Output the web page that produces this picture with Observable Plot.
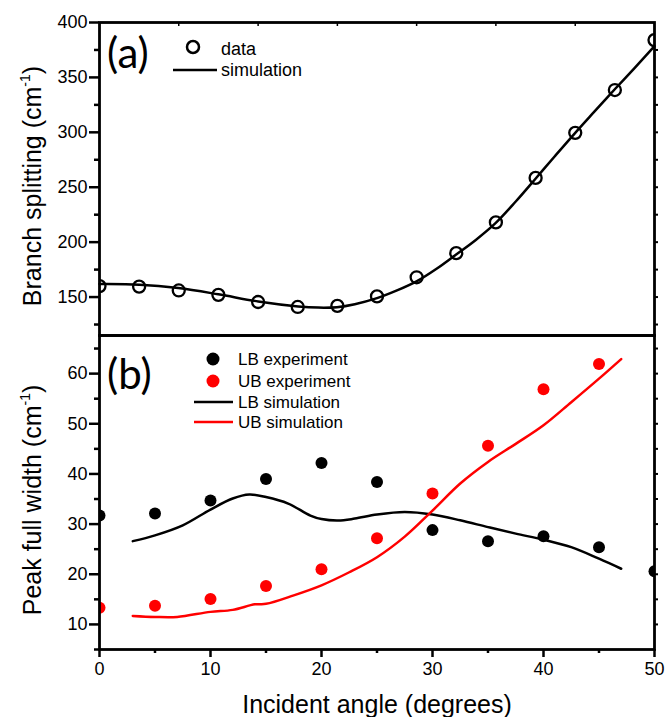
<!DOCTYPE html>
<html>
<head>
<meta charset="utf-8">
<script src="https://cdn.jsdelivr.net/npm/d3@7"></script>
<script src="https://cdn.jsdelivr.net/npm/@observablehq/plot@0.6"></script>
<style>
  html, body { margin: 0; padding: 0; background: #fff; }
  #wrap { position: relative; width: 665px; height: 717px; overflow: hidden; }
  #wrap svg { position: absolute; left: 0; }
</style>
</head>
<body>
<div id="wrap"></div>
<script>
// ---------- Panel (a): branch splitting ----------
const angleA = [0, 3.57, 7.14, 10.71, 14.29, 17.86, 21.43, 25, 28.57, 32.14, 35.71, 39.29, 42.86, 46.43, 50];
const splitA = [160, 159.5, 156, 152, 145.5, 141, 142, 150.6, 168, 190, 218, 258.5, 299.5, 338.5, 384];

const simAngleA = [0, 3.6, 7.1, 10.7, 14.3, 17.9, 19.7, 21.4, 23, 25, 26.8, 28.6, 30.4, 32.1, 33.9, 35.7, 37.5, 39.3, 41, 42.9, 44.6, 46.4, 48.2, 50];
const simSplitA = [161.8, 161.3, 158.2, 152.5, 146, 141.5, 140.4, 140.8, 143.5, 149, 156, 164.5, 176, 188.5, 202, 217.5, 237, 258, 278, 300, 319, 339, 358.5, 378.5];

const yTicksA = [150, 200, 250, 300, 350, 400];
const yMinorA = [125, 175, 225, 275, 325, 375];
const yRightA = [125, 150, 175, 200, 225, 250, 275, 300, 325, 350, 375];
const xTopTicksA = [7.14, 14.29, 21.43, 28.57, 35.71, 42.86];

// ---------- Panel (b): peak full width ----------
const angleLB = [0, 5, 10, 15, 20, 25, 30, 35, 40, 45, 50];
const widthLB = [31.7, 32.1, 34.7, 39.0, 42.2, 38.4, 28.8, 26.6, 27.6, 25.4, 20.6];
const angleUB = [0, 5, 10, 15, 20, 25, 30, 35, 40, 45];
const widthUB = [13.3, 13.7, 15.05, 17.65, 21.0, 27.2, 36.1, 45.6, 56.9, 61.9];

const simAngleLB = [3, 5, 7.5, 10, 12, 13.5, 15, 17, 19, 20, 21.5, 23, 25, 27.5, 30, 32.5, 35, 37.5, 40, 42.5, 45, 47];
const simWidthLB = [26.6, 27.75, 29.75, 32.9, 35.1, 35.9, 35.4, 34.1, 31.7, 31.0, 30.7, 31.1, 31.9, 32.4, 31.9, 30.75, 29.4, 28.1, 26.9, 25.4, 23.1, 21.1];
const simAngleUB = [3, 5, 7, 10, 12, 14, 15, 17.5, 20, 22.5, 25, 27.5, 30, 32.5, 35, 37.5, 40, 42.5, 45, 47];
const simWidthUB = [11.7, 11.5, 11.5, 12.5, 12.9, 14.0, 14.1, 15.8, 17.8, 20.4, 23.4, 27.5, 32.7, 38.1, 42.4, 46.0, 49.7, 54.3, 59.0, 62.9];

const yTicksB = [10, 20, 30, 40, 50, 60];
const yMinorB = [5, 15, 25, 35, 45, 55, 65];
const yRightB = [10, 15, 20, 25, 30, 35, 40, 45, 50, 55, 60, 65];
const xTicks = [0, 10, 20, 30, 40, 50];
const xMinor = [5, 15, 25, 35, 45];

const FONT = "'Liberation Sans', Arial, Helvetica, sans-serif";
const LABELFONT = "Lato, 'Open Sans', sans-serif";
const RED = "#ff0000";

const pts = (xs, ys) => xs.map((x, i) => ({x, y: ys[i]}));

const W = 665, ML = 99, MR = 11;

// ---------- top chart ----------
const topChart = Plot.plot({
  width: W, height: 340,
  marginTop: 22, marginBottom: 5, marginLeft: ML, marginRight: MR,
  style: {background: "transparent", fontFamily: FONT, overflow: "visible"},
  x: {domain: [0, 50]},
  y: {domain: [115, 400]},
  marks: [
    Plot.axisY({ticks: yTicksA, tickSize: 10, tickPadding: 2, fontSize: 18, label: null, strokeWidth: 2.5}),
    Plot.axisY({ticks: yMinorA, tickSize: 5, text: null, label: null, strokeWidth: 2.5}),
    Plot.axisY({anchor: "right", ticks: yRightA, tickSize: 3, text: null, label: null, strokeWidth: 2}),
    Plot.axisX({anchor: "top", ticks: xTopTicksA, tickSize: -3, text: null, label: null, strokeWidth: 1.5}),
    Plot.line(pts(simAngleA, simSplitA), {x: "x", y: "y", curve: "catmull-rom", stroke: "black", strokeWidth: 2.5}),
    Plot.dot(pts(angleA, splitA), {x: "x", y: "y", r: 6, stroke: "black", strokeWidth: 2.3, fill: "none", clip: true}),
    Plot.frame({strokeWidth: 2.8})
  ]
});
topChart.style.top = "0px";

// ---------- bottom chart ----------
const BOFF = 325;
const botChart = Plot.plot({
  width: W, height: 392,
  marginTop: 10, marginBottom: 68, marginLeft: ML, marginRight: MR,
  style: {background: "transparent", fontFamily: FONT, overflow: "visible"},
  x: {domain: [0, 50]},
  y: {domain: [5, 67.6]},
  marks: [
    Plot.axisY({ticks: yTicksB, tickSize: 10, tickPadding: 2, fontSize: 18, label: null, strokeWidth: 2.5}),
    Plot.axisY({ticks: yMinorB, tickSize: 5, text: null, label: null, strokeWidth: 2.5}),
    Plot.axisY({anchor: "right", ticks: yRightB, tickSize: 3, text: null, label: null, strokeWidth: 2}),
    Plot.axisX({ticks: xTicks, tickSize: 8, tickPadding: 5, fontSize: 18, label: null, strokeWidth: 2.5}),
    Plot.axisX({ticks: xMinor, tickSize: 4, text: null, label: null, strokeWidth: 2.5}),
    Plot.line(pts(simAngleLB, simWidthLB), {x: "x", y: "y", curve: "catmull-rom", stroke: "black", strokeWidth: 2.5}),
    Plot.line(pts(simAngleUB, simWidthUB), {x: "x", y: "y", curve: "catmull-rom", stroke: RED, strokeWidth: 2.5}),
    Plot.dot(pts(angleLB, widthLB), {x: "x", y: "y", r: 6, fill: "black", clip: true}),
    Plot.dot(pts(angleUB, widthUB), {x: "x", y: "y", r: 6, fill: RED, clip: true}),
    Plot.frame({strokeWidth: 2.8})
  ]
});
botChart.style.top = BOFF + "px";

const wrap = document.getElementById("wrap");
wrap.appendChild(topChart);
wrap.appendChild(botChart);

// ---------- titles, panel labels, legends ----------
function yTitle(svg, x, y, main) {
  const t = d3.select(svg).append("text")
    .attr("transform", `translate(${x},${y}) rotate(-90)`)
    .attr("text-anchor", "middle")
    .attr("fill", "black")
    .style("font-family", FONT).style("font-size", "25px");
  t.append("tspan").text(main + " (cm");
  t.append("tspan").attr("dy", -11).style("font-size", "14px").text("-1");
  t.append("tspan").attr("dy", 11).text(")");
}
function txt(svg, x, y, s, size, family, anchor) {
  d3.select(svg).append("text")
    .attr("x", x).attr("y", y)
    .attr("text-anchor", anchor || "start")
    .attr("fill", "black")
    .style("font-family", family || FONT).style("font-size", size + "px")
    .text(s);
}
function hline(svg, x1, x2, y, color) {
  d3.select(svg).append("line")
    .attr("x1", x1).attr("x2", x2).attr("y1", y).attr("y2", y)
    .attr("stroke", color).attr("stroke-width", 2.5);
}

// top
const ts = topChart;
yTitle(ts, 41, 186, "Branch splitting");
txt(ts, 107, 68, "(a)", 42, LABELFONT);
d3.select(ts).append("circle").attr("cx", 193).attr("cy", 47).attr("r", 6)
  .attr("fill", "none").attr("stroke", "black").attr("stroke-width", 2.5);
txt(ts, 221, 55, "data", 18);
hline(ts, 173, 217, 70, "black");
txt(ts, 221, 76, "simulation", 18);

// bottom (page y minus BOFF)
const bs = botChart;
yTitle(bs, 41, 500 - BOFF, "Peak full width");
txt(bs, 377, 713 - BOFF, "Incident angle (degrees)", 25, FONT, "middle");
txt(bs, 107, 389 - BOFF, "(b)", 42, LABELFONT);
d3.select(bs).append("circle").attr("cx", 213).attr("cy", 359 - BOFF).attr("r", 6.5).attr("fill", "black");
d3.select(bs).append("circle").attr("cx", 213).attr("cy", 381 - BOFF).attr("r", 6.5).attr("fill", RED);
txt(bs, 238, 365 - BOFF, "LB experiment", 17);
txt(bs, 238, 387 - BOFF, "UB experiment", 17);
hline(bs, 194, 233, 402 - BOFF, "black");
hline(bs, 194, 233, 422 - BOFF, RED);
txt(bs, 238, 408 - BOFF, "LB simulation", 17);
txt(bs, 238, 428 - BOFF, "UB simulation", 17);
</script>
</body>
</html>
